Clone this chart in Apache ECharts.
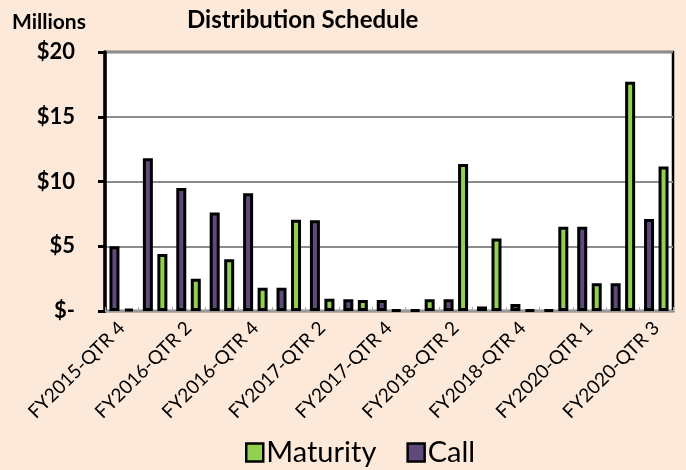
<!DOCTYPE html>
<html>
<head>
<meta charset="utf-8">
<script src="https://cdn.jsdelivr.net/npm/echarts@6/dist/echarts.min.js"></script>
<style>
  html, body { margin: 0; padding: 0; background: #FDE9D9; }
  #chart { width: 686px; height: 470px; }
</style>
</head>
<body>
<div id="chart"></div>
<script>
// quarters on the x axis (only every other one is labelled)
const categories = [
  'FY2015-QTR 4', 'FY2016-QTR 1', 'FY2016-QTR 2', 'FY2016-QTR 3', 'FY2016-QTR 4',
  'FY2017-QTR 1', 'FY2017-QTR 2', 'FY2017-QTR 3', 'FY2017-QTR 4',
  'FY2018-QTR 1', 'FY2018-QTR 2', 'FY2018-QTR 3', 'FY2018-QTR 4',
  'FY2019-QTR 1', 'FY2020-QTR 1', 'FY2020-QTR 2', 'FY2020-QTR 3'
]
// millions of dollars
const callValues = [5.0, 11.8, 9.5, 7.6, 9.1, 1.8, 7.0, 0.9, 0.85, 0.08, 0.9, 0.35, 0.55, 0.08, 6.5, 2.15, 7.1]
const maturityValues = [0.15, 4.4, 2.5, 4.0, 1.8, 7.05, 0.95, 0.85, 0.08, 0.9, 11.35, 5.6, 0.08, 6.5, 2.15, 17.7, 11.15]
const yTicks = [0, 5, 10, 15, 20]

const chart = echarts.init(document.getElementById('chart'))

const option = {
  backgroundColor: '#FDE9D9',
  animation: false,
  title: [
    {
      text: 'Distribution Schedule',
      left: 182,
      top: 3,
      textStyle: { fontFamily: 'Lato', fontWeight: 'bold', fontSize: 24, color: '#000' }
    },
    {
      text: 'Millions',
      left: 7,
      top: 7,
      textStyle: { fontFamily: 'Lato', fontWeight: 'bold', fontSize: 21, color: '#000' }
    }
  ],
  legend: {
    data: ['Maturity', 'Call'],
    left: 240,
    bottom: -2,
    itemWidth: 17,
    itemHeight: 18,
    itemGap: 30,
    icon: 'rect',
    itemStyle: { borderColor: '#000', borderWidth: 2.5 },
    textStyle: { fontFamily: 'Lato', fontSize: 29, color: '#000', padding: [0, 0, 0, -2] }
  },
  grid: {
    left: 105,
    right: 13,
    top: 52,
    bottom: 159,
    show: true,
    backgroundColor: '#fff',
    borderColor: '#000',
    borderWidth: 2.5
  },
  xAxis: {
    type: 'category',
    data: categories,
    axisLine: { lineStyle: { color: '#999', width: 2 } },
    axisTick: { show: true, inside: true, length: 4, interval: 0, lineStyle: { color: '#aaa', width: 1 } },
    axisLabel: {
      interval: 1,
      rotate: 45,
      margin: 14,
      fontFamily: 'Lato',
      fontSize: 19,
      color: '#000'
    }
  },
  yAxis: {
    type: 'value',
    min: 0,
    max: 20,
    interval: 5,
    axisLine: { show: true, lineStyle: { color: '#000', width: 3.5 } },
    axisTick: { show: true, length: 7, lineStyle: { color: '#000', width: 3 } },
    splitLine: { lineStyle: { color: '#8c8c8c', width: 2 } },
    axisLabel: {
      margin: 30,
      fontFamily: 'Lato',
      fontWeight: 'bold',
      fontSize: 22,
      color: '#000',
      formatter: v => yTicks.includes(v) ? (v === 0 ? '$-' : '$' + v) : ''
    }
  },
  series: [
    {
      name: 'Call',
      type: 'bar',
      data: callValues,
      barWidth: 10,
      barGap: '45%',
      itemStyle: { color: '#604A7B', borderColor: '#000', borderWidth: 3 }
    },
    {
      name: 'Maturity',
      type: 'bar',
      data: maturityValues,
      barWidth: 10,
      itemStyle: { color: '#92D050', borderColor: '#000', borderWidth: 3 }
    }
  ]
}

chart.setOption(option)
</script>
</body>
</html>
